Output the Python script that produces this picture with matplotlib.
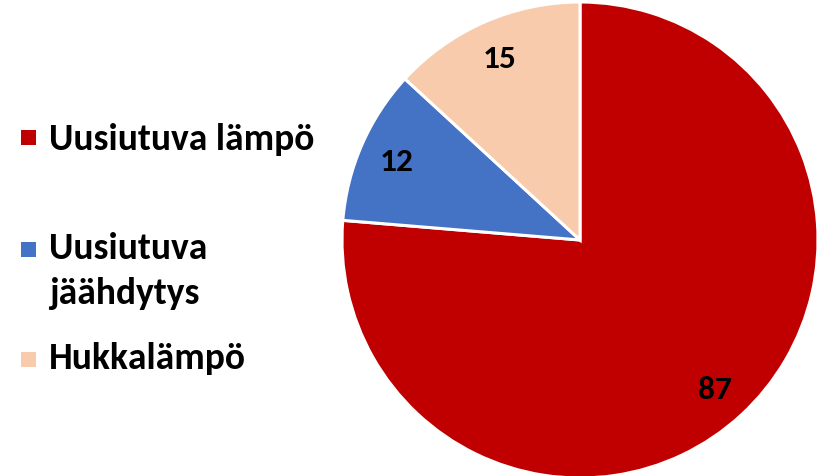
import matplotlib
matplotlib.use("Agg")
import matplotlib.pyplot as plt
from matplotlib.patches import Rectangle

categories = ["Uusiutuva lämpö", "Uusiutuva\njäähdytys", "Hukkalämpö"]
values = [87, 12, 15]
colors = ["#C00000", "#4472C4", "#F8CBAD"]

W, H = 820, 476
fig = plt.figure(figsize=(W / 100, H / 100), dpi=100)
plt.rcParams["font.family"] = ["Carlito", "Lato", "DejaVu Sans"]

cx, cy, r = 580, 236, 238
ax = fig.add_axes([(cx - r) / W, (cy - r) / H, 2 * r / W, 2 * r / H])
wedges, texts = ax.pie(values, labels=[str(v) for v in values], colors=colors,
                       startangle=90, counterclock=False, labeldistance=0.84,
                       wedgeprops=dict(edgecolor="white", linewidth=2.2),
                       textprops=dict(fontsize=24, fontweight="bold", color="black",
                                      ha="center", va="center_baseline"))
ax.set_xlim(-1, 1)
ax.set_ylim(-1, 1)
ax.set_aspect("equal")
ax.axis("off")

# legend layout (pixel coords from top)
marker_y = [137.5, 249, 359.5]
baseline_y = [150, 259, 369]
line_gap = 45
for cat, col, my, by in zip(categories, colors, marker_y, baseline_y):
    fig.patches.append(Rectangle(((21) / W, 1 - (my + 7.5) / H), 15 / W, 15 / H,
                                 transform=fig.transFigure, facecolor=col,
                                 edgecolor="none"))
    for i, line in enumerate(cat.split("\n")):
        fig.text(49 / W, 1 - (by + i * line_gap) / H, line, fontsize=27,
                 fontweight="bold", ha="left", va="baseline", color="black")

fig.savefig("out.png", dpi=100)
